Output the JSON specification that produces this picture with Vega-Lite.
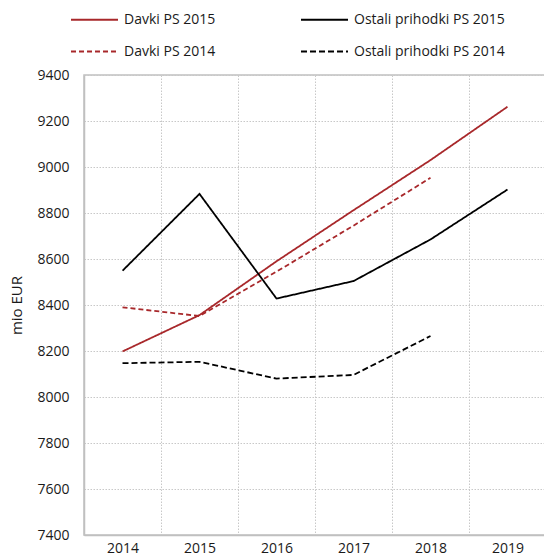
{
  "$schema": "https://vega.github.io/schema/vega-lite/v6.json",
  "autosize": {"type": "none"},
  "width": 462,
  "height": 460,
  "padding": {"left": 84, "top": 75, "right": 0, "bottom": 24},
  "background": "white",
  "config": {
    "font": "Open Sans",
    "view": {"stroke": "#c0c0c0", "strokeWidth": 1.5},
    "axis": {
      "labelFont": "Open Sans",
      "labelFontSize": 14,
      "labelColor": "#1a1a1a",
      "titleFont": "Open Sans",
      "titleFontWeight": "normal",
      "titleColor": "#1a1a1a",
      "ticks": false,
      "domainColor": "#c0c0c0",
      "domainWidth": 1.5,
      "gridColor": "#c8c8c8",
      "gridDash": [1.5, 1.5],
      "gridWidth": 1
    }
  },
  "data": {
    "values": [
      {"year": "2014", "series": "Davki PS 2015", "value": 8198},
      {"year": "2015", "series": "Davki PS 2015", "value": 8356},
      {"year": "2016", "series": "Davki PS 2015", "value": 8590},
      {"year": "2017", "series": "Davki PS 2015", "value": 8812},
      {"year": "2018", "series": "Davki PS 2015", "value": 9030},
      {"year": "2019", "series": "Davki PS 2015", "value": 9262},
      {"year": "2014", "series": "Ostali prihodki PS 2015", "value": 8549},
      {"year": "2015", "series": "Ostali prihodki PS 2015", "value": 8883},
      {"year": "2016", "series": "Ostali prihodki PS 2015", "value": 8428},
      {"year": "2017", "series": "Ostali prihodki PS 2015", "value": 8504},
      {"year": "2018", "series": "Ostali prihodki PS 2015", "value": 8685},
      {"year": "2019", "series": "Ostali prihodki PS 2015", "value": 8902},
      {"year": "2014", "series": "Davki PS 2014", "value": 8390},
      {"year": "2015", "series": "Davki PS 2014", "value": 8352},
      {"year": "2016", "series": "Davki PS 2014", "value": 8545},
      {"year": "2017", "series": "Davki PS 2014", "value": 8745},
      {"year": "2018", "series": "Davki PS 2014", "value": 8953},
      {"year": "2014", "series": "Ostali prihodki PS 2014", "value": 8147},
      {"year": "2015", "series": "Ostali prihodki PS 2014", "value": 8153},
      {"year": "2016", "series": "Ostali prihodki PS 2014", "value": 8080},
      {"year": "2017", "series": "Ostali prihodki PS 2014", "value": 8096},
      {"year": "2018", "series": "Ostali prihodki PS 2014", "value": 8265}
    ]
  },
  "mark": {"type": "line", "strokeWidth": 1.8, "clip": true},
  "encoding": {
    "x": {
      "field": "year",
      "type": "ordinal",
      "scale": {"type": "band", "paddingInner": 0, "paddingOuter": 0},
      "axis": {"title": null, "labelAngle": 0, "labelPadding": 6, "tickBand": "extent", "grid": true}
    },
    "y": {
      "field": "value",
      "type": "quantitative",
      "scale": {"domain": [7400, 9400], "nice": false, "zero": false},
      "axis": {
        "title": "mio EUR",
        "titleFontSize": 15,
        "titlePadding": 12,
        "format": "d",
        "values": [7400, 7600, 7800, 8000, 8200, 8400, 8600, 8800, 9000, 9200, 9400],
        "labelPadding": 15,
        "grid": true
      }
    },
    "color": {
      "field": "series",
      "type": "nominal",
      "scale": {
        "domain": ["Davki PS 2015", "Davki PS 2014", "Ostali prihodki PS 2015", "Ostali prihodki PS 2014"],
        "range": ["#a8282b", "#a8282b", "#000000", "#000000"]
      },
      "legend": {
        "title": null,
        "orient": "none",
        "legendX": -14,
        "legendY": -80,
        "columns": 2,
        "symbolType": "stroke",
        "symbolSize": 2209,
        "symbolStrokeWidth": 1.8,
        "labelFont": "Open Sans",
        "labelFontSize": 14,
        "labelColor": "#1a1a1a",
        "labelOffset": 5,
        "columnPadding": 81,
        "rowPadding": -10
      }
    },
    "strokeDash": {
      "field": "series",
      "type": "nominal",
      "scale": {
        "domain": ["Davki PS 2015", "Davki PS 2014", "Ostali prihodki PS 2015", "Ostali prihodki PS 2014"],
        "range": [[1, 0], [5, 3], [1, 0], [6, 3]]
      },
      "legend": {
        "title": null,
        "orient": "none",
        "legendX": -14,
        "legendY": -80,
        "columns": 2,
        "symbolType": "stroke",
        "symbolSize": 2209,
        "symbolStrokeWidth": 1.8,
        "labelFont": "Open Sans",
        "labelFontSize": 14,
        "labelColor": "#1a1a1a",
        "labelOffset": 5,
        "columnPadding": 81,
        "rowPadding": -10
      }
    }
  }
}
